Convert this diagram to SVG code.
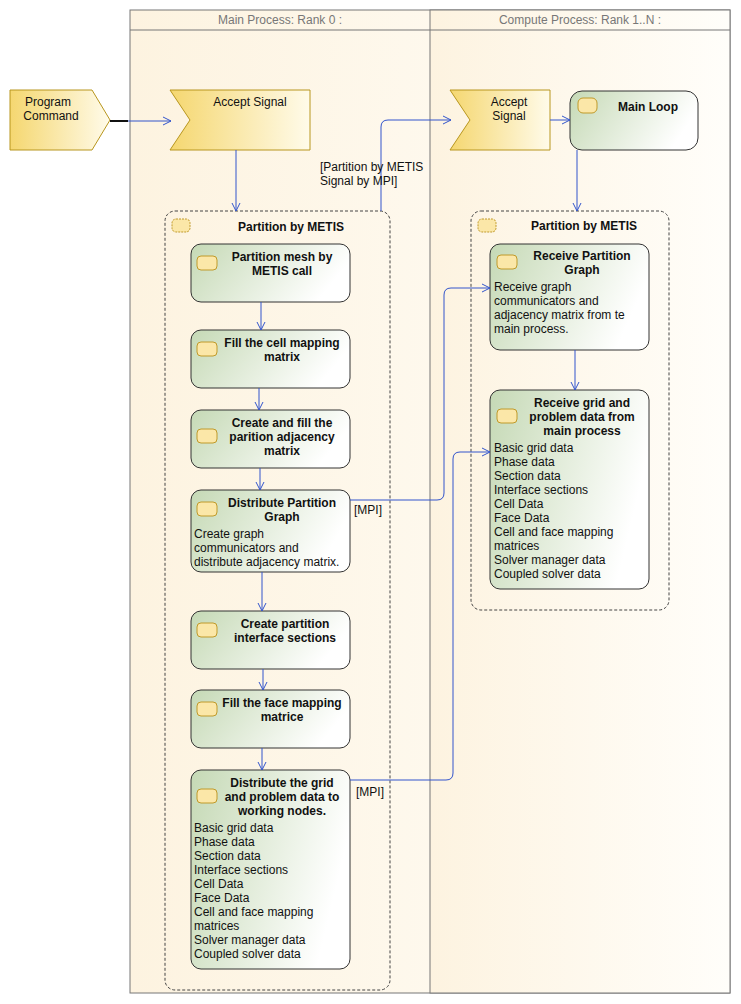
<svg xmlns="http://www.w3.org/2000/svg" width="741" height="1004" viewBox="0 0 741 1004">
<defs>
<linearGradient id="lane" x1="0" y1="0" x2="1" y2="0"><stop offset="0" stop-color="#fdf3e0"/><stop offset="1" stop-color="#fffefa"/></linearGradient>
<linearGradient id="sig" x1="0" y1="0" x2="1" y2="0"><stop offset="0" stop-color="#f5d770"/><stop offset="1" stop-color="#fffbea"/></linearGradient>
<linearGradient id="act" x1="0" y1="0" x2="1" y2="0.3"><stop offset="0" stop-color="#c5d9b5"/><stop offset="1" stop-color="#ffffff"/></linearGradient>
<marker id="arr" markerWidth="10" markerHeight="10" refX="9" refY="5" orient="auto" markerUnits="userSpaceOnUse"><path d="M1,1 L9,5 L1,9" fill="none" stroke="#3355cc" stroke-width="1"/></marker>
</defs>
<style>
text{font-family:"Liberation Sans",Arial,sans-serif;font-size:12px;fill:#111}
.b{font-weight:bold}
.h{fill:#777}
.m{text-anchor:middle}
.act{fill:url(#act);stroke:#333;stroke-width:1}
.sig{fill:url(#sig);stroke:#b8961e;stroke-width:1}
.grp{fill:none;stroke:#444;stroke-dasharray:3,2}
.ico{fill:#fbe7a8;stroke:#c09a2a}
.c{fill:none;stroke:#3355cc;stroke-width:1;marker-end:url(#arr)}
</style>
<g id="lanes">
<rect x="130" y="10" width="600" height="983" fill="url(#lane)" stroke="#777"/>
<rect x="430" y="10" width="300" height="983" fill="url(#lane)" stroke="#777"/>
<line x1="130" y1="30" x2="730" y2="30" stroke="#777"/>
<text class="h m" x="280" y="24">Main Process: Rank 0 :</text>
<text class="h m" x="580" y="24">Compute Process: Rank 1..N :</text>
</g>
<g id="program-command"><path class="sig" d="M10,90 H92 L110,120 L92,150 H10 Z"/><text class="m" x="48" y="106">Program</text><text class="m" x="51" y="120">Command</text></g>
<g id="accept-main"><path class="sig" d="M170,90 H310 V150 H170 L190,120 Z"/><text class="m" x="250" y="106">Accept Signal</text></g>
<g id="accept-compute"><path class="sig" d="M450,90 H550 V150 H450 L470,120 Z"/><text class="m" x="509" y="106">Accept</text><text class="m" x="509" y="120">Signal</text></g>
<g id="main-loop"><rect class="act" x="570" y="91" width="128" height="59" rx="12"/><rect class="ico" x="578" y="98" width="19" height="15" rx="5"/><text class="b m" x="648" y="111">Main Loop</text></g>
<g id="group-main"><rect class="grp" x="165" y="211" width="225" height="779" rx="10"/><rect class="ico" x="172" y="219" width="18" height="13" rx="4" stroke-dasharray="2,1"/><text class="b m" x="291" y="231">Partition by METIS</text></g>
<g id="group-compute"><rect class="grp" x="471" y="211" width="198" height="399" rx="10"/><rect class="ico" x="478" y="219" width="18" height="13" rx="4" stroke-dasharray="2,1"/><text class="b m" x="584" y="230">Partition by METIS</text></g>
<g id="n1"><rect class="act" x="191" y="244" width="159" height="58" rx="10"/><rect class="ico" x="197" y="256" width="20" height="14" rx="4"/><text class="b m" x="282" y="261">Partition mesh by</text><text class="b m" x="282" y="275">METIS call</text></g>
<g id="n2"><rect class="act" x="191" y="330" width="159" height="58" rx="10"/><rect class="ico" x="197" y="342" width="20" height="14" rx="4"/><text class="b m" x="282" y="347">Fill the cell mapping</text><text class="b m" x="282" y="361">matrix</text></g>
<g id="n3"><rect class="act" x="191" y="410" width="159" height="58" rx="10"/><rect class="ico" x="197" y="429" width="20" height="14" rx="4"/><text class="b m" x="282" y="427">Create and fill the</text><text class="b m" x="282" y="441">parition adjacency</text><text class="b m" x="282" y="455">matrix</text></g>
<g id="n4"><rect class="act" x="191" y="490" width="159" height="82" rx="10"/><rect class="ico" x="197" y="502" width="20" height="14" rx="4"/><text class="b m" x="282" y="507">Distribute Partition</text><text class="b m" x="282" y="521">Graph</text><text x="194" y="538">Create graph</text><text x="194" y="552">communicators and</text><text x="194" y="566">distribute adjacency matrix.</text></g>
<g id="n5"><rect class="act" x="191" y="611" width="159" height="58" rx="10"/><rect class="ico" x="197" y="623" width="20" height="14" rx="4"/><text class="b m" x="285" y="628">Create partition</text><text class="b m" x="285" y="642">interface sections</text></g>
<g id="n6"><rect class="act" x="191" y="690" width="159" height="58" rx="10"/><rect class="ico" x="197" y="702" width="20" height="14" rx="4"/><text class="b m" x="282" y="707">Fill the face mapping</text><text class="b m" x="282" y="721">matrice</text></g>
<g id="n7"><rect class="act" x="191" y="770" width="159" height="199" rx="10"/><rect class="ico" x="197" y="789" width="20" height="14" rx="4"/><text class="b m" x="282" y="787">Distribute the grid</text><text class="b m" x="282" y="801">and problem data to</text><text class="b m" x="282" y="815">working nodes.</text>
<text x="194" y="832">Basic grid data</text><text x="194" y="846">Phase data</text><text x="194" y="860">Section data</text><text x="194" y="874">Interface sections</text><text x="194" y="888">Cell Data</text><text x="194" y="902">Face Data</text><text x="194" y="916">Cell and face mapping</text><text x="194" y="930">matrices</text><text x="194" y="944">Solver manager data</text><text x="194" y="958">Coupled solver data</text></g>
<g id="r1"><rect class="act" x="490" y="244" width="159" height="106" rx="10"/><rect class="ico" x="497" y="255" width="20" height="14" rx="4"/><text class="b m" x="582" y="260">Receive Partition</text><text class="b m" x="582" y="274">Graph</text><text x="494" y="291">Receive graph</text><text x="494" y="305">communicators and</text><text x="494" y="319">adjacency matrix from te</text><text x="494" y="333">main process.</text></g>
<g id="r2"><rect class="act" x="490" y="390" width="159" height="199" rx="10"/><rect class="ico" x="497" y="409" width="20" height="14" rx="4"/><text class="b m" x="582" y="407">Receive grid and</text><text class="b m" x="582" y="421">problem data from</text><text class="b m" x="582" y="435">main process</text>
<text x="494" y="452">Basic grid data</text><text x="494" y="466">Phase data</text><text x="494" y="480">Section data</text><text x="494" y="494">Interface sections</text><text x="494" y="508">Cell Data</text><text x="494" y="522">Face Data</text><text x="494" y="536">Cell and face mapping</text><text x="494" y="550">matrices</text><text x="494" y="564">Solver manager data</text><text x="494" y="578">Coupled solver data</text></g>
<g id="connectors">
<line x1="110" y1="121" x2="128" y2="121" stroke="#111" stroke-width="2"/>
<path class="c" d="M128,121 H171"/>
<path class="c" d="M236,150 V211"/>
<path class="c" d="M381,211 V127 Q381,120 388,120 H451"/>
<path class="c" d="M550,120 H570"/>
<path class="c" d="M577,150 V211"/>
<path class="c" d="M261,302 V330"/>
<path class="c" d="M259,388 V410"/>
<path class="c" d="M260,468 V490"/>
<path class="c" d="M262,572 V611"/>
<path class="c" d="M263,669 V690"/>
<path class="c" d="M262,748 V770"/>
<path class="c" d="M575,350 V390"/>
<path class="c" d="M350,500 H437 Q444,500 444,493 V295 Q444,288 451,288 H490"/>
<path class="c" d="M350,780 H446 Q453,780 453,773 V459 Q453,452 460,452 H490"/>
<text x="320" y="171">[Partition by METIS</text><text x="320" y="185">Signal by MPI]</text>
<text x="354" y="514">[MPI]</text>
<text x="356" y="796">[MPI]</text>
</g>
</svg>
